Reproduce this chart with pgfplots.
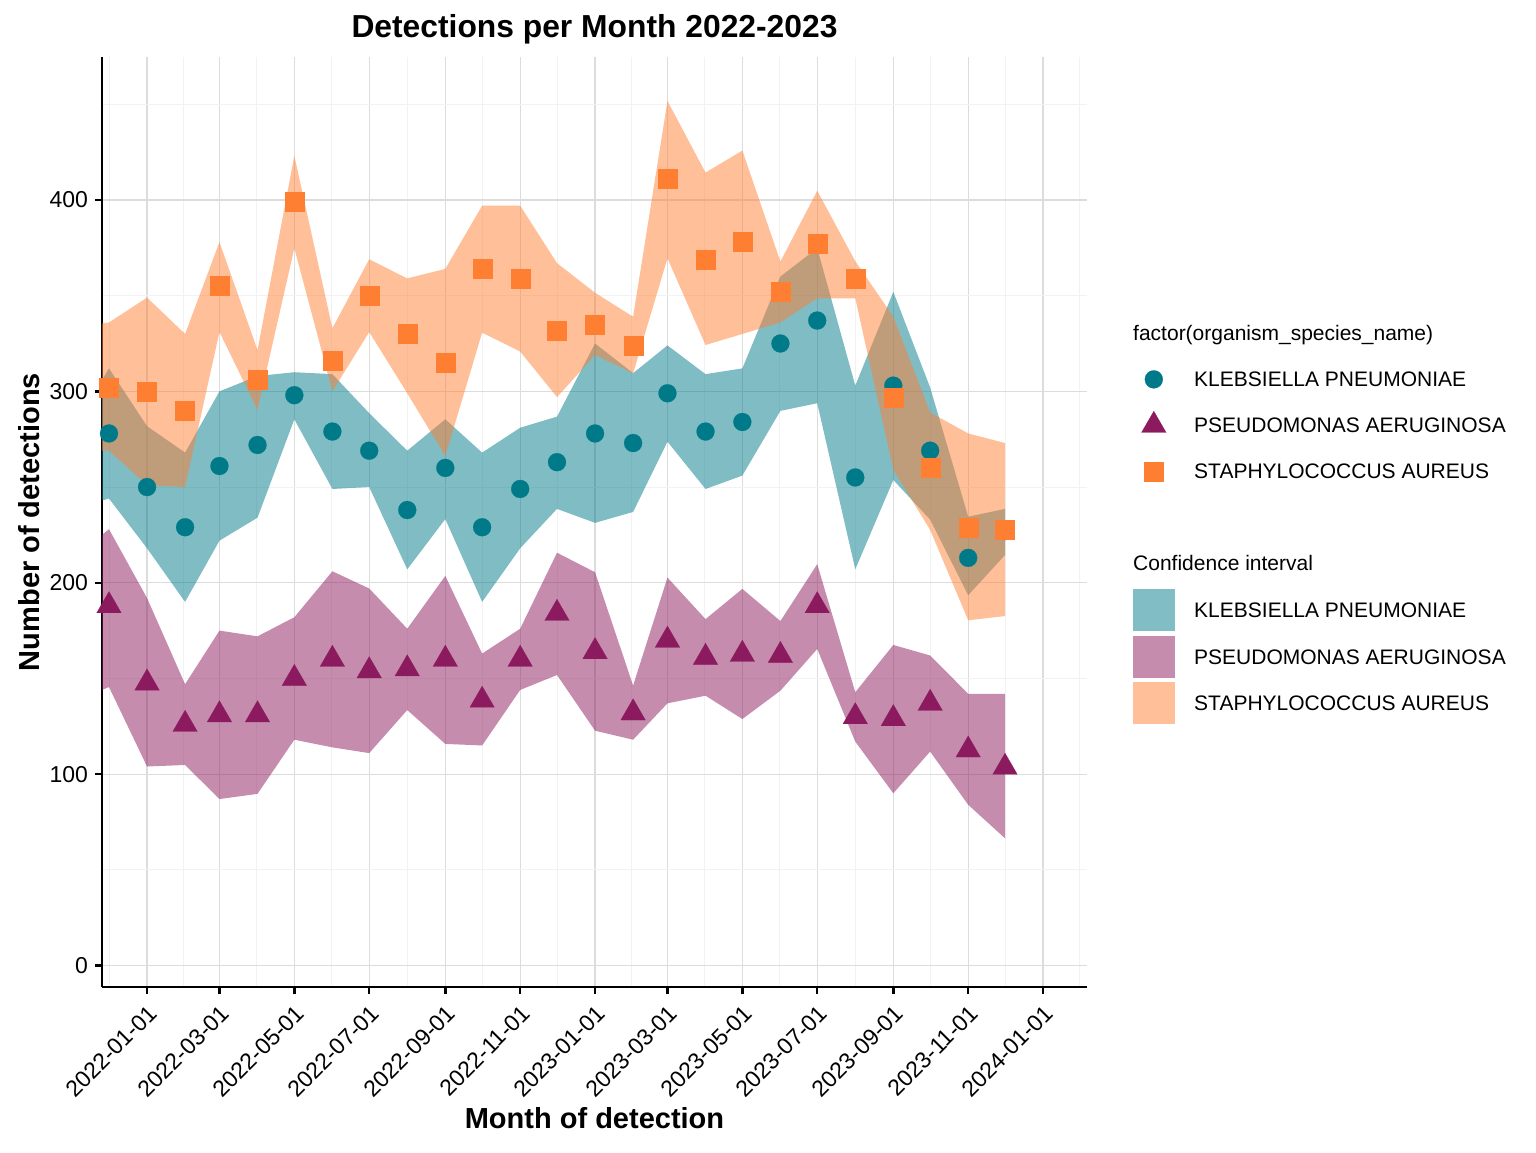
\documentclass[border=0pt]{standalone}
\usepackage{fontspec}
\setmainfont{Liberation Sans}
\usepackage{pgfplots}
\pgfplotsset{compat=1.18}
\usepackage{pgfplotstable}
\usepgfplotslibrary{fillbetween}

\definecolor{kcol}{RGB}{0,122,136}
\definecolor{pcol}{RGB}{139,26,94}
\definecolor{scol}{RGB}{255,127,50}
\definecolor{kband}{RGB}{128,189,196}
\definecolor{pband}{RGB}{197,140,174}
\definecolor{sband}{RGB}{255,191,152}
\definecolor{gridmaj}{RGB}{220,220,220}
\definecolor{gridmin}{RGB}{242,242,242}

% d = days since 2021-12-01; k/p/s = detections, u/l = interval bounds
\pgfplotstableread{
d k p s ku kl pu pl su sl
-5.7 nan nan nan 306 243 225 144 335.5 269
0 278 188 302 312 244 228 145.5 336 269
31 250 147.6 300 281.8 218 192 104 349 251
62 229 126 290 268 190 147 104.8 330 250
90 261 131 355 300 222 175 87 378 331
121 272 131 306 308 234 172 89.7 321.6 290.3
151 298 150 399 310 285.4 182 118 423 374.8
182 279 160 316 309 249 206 114 333 300
212 269 154 350 288.6 250 197 111 369 331
243 238 155 330 269 207 176 133.5 359 299
274 260 160 315 285.4 233.3 203.6 115.8 364 266.2
304 229 138.6 364 268 190 163 115 397 330.7
335 249 160 359 281 218 176 144 397 320.8
365 263 184 332 286.8 238.6 215.7 151.8 367 297
396 278 164 335 325 231.3 205.5 122.7 351.5 319
427 273 132 324 309.5 237 146.3 118 339 309.4
455 299 170 411 324 273.7 202.7 137 451.7 369.5
486 279 161 369 309 249 181 141 414.3 324.2
516 284 162.6 378 312 256 196.8 128.8 425.8 330
547 325 162 352 360 289.8 180 143.6 367.8 336
577 337 188 377 374.8 293.8 209.7 165.4 404.8 348.6
608 255 130 359 303 207 142.8 117 368 348.6
639 303 129 297 352 253.7 167.5 90 339 259
669 269 137 260 302 233 162 111.8 289 227.6
700 213 112.6 229 234.5 193.5 142 84 278 180.4
730 227 103.6 228 238.6 214.5 142 66.5 273 182.6
}\datatable

\pgfplotsset{
    kmark/.style={only marks, color=kcol, mark=*, mark size=4.5pt, mark options={fill=kcol, draw=kcol, line width=0.1pt}},
    pmark/.style={only marks, color=pcol, mark=triangle*, mark size=7.1pt, mark options={fill=pcol, draw=pcol, line width=0.1pt}},
    smark/.style={only marks, color=scol, mark=square*, mark size=4.75pt, mark options={fill=scol, draw=scol, line width=0.1pt}},
}

\begin{document}
\begin{tikzpicture}
\begin{axis}[
    scale only axis,
    width=492.5pt, height=465pt,
    xmin=-5.7, xmax=796.8,
    ymin=-11.2, ymax=474.7,
    axis x line*=bottom, axis y line*=left,
    axis line style={black, line width=1.35pt, -},
    tick align=outside,
    major tick length=3.5pt, minor tick length=0pt,
    tick style={black, line width=1.2pt},
    xtick={31,90,151,212,274,335,396,455,516,577,639,700,761},
    xticklabels={2022-01-01,2022-03-01,2022-05-01,2022-07-01,2022-09-01,2022-11-01,2023-01-01,2023-03-01,2023-05-01,2023-07-01,2023-09-01,2023-11-01,2024-01-01},
    minor xtick={0.5,60.5,120.5,181.5,243,304.5,365.5,425.5,485.5,546.5,608,669.5,730.5,791},
    ytick={0,100,200,300,400},
    minor ytick={50,150,250,350,450},
    grid=both,
    major grid style={gridmaj, line width=0.6pt},
    minor grid style={gridmin, line width=0.45pt},
    /pgf/number format/assume math mode=true,
    ticklabel style={font=\fontsize{11.5}{13}\selectfont},
    x tick label style={rotate=45, anchor=north east},
    title={Detections per Month 2022-2023},
    every axis title/.style={font=\bfseries\fontsize{15.9}{18}\selectfont, at={(axis description cs:0.5,1)}, anchor=base, yshift=9.75pt},
    xlabel={Month of detection},
    xlabel style={font=\bfseries\fontsize{14.5}{17}\selectfont, at={(axis description cs:0.5,-0.1415)}, anchor=center},
    ylabel={Number of detections},
    ylabel style={font=\bfseries\fontsize{14.5}{17}\selectfont, at={(axis description cs:-0.0741,0.5)}, anchor=center},
    legend cell align=left,
    legend style={draw=none, fill=none, inner sep=0pt,
        at={(axis description cs:1.0462,0.7253)}, anchor=north west,
        row sep=2.5pt, column sep=9.75pt,
        nodes={font=\fontsize{10.5}{12}\selectfont, text height=14pt, text depth=6.5pt, inner sep=0pt}},
]
% confidence bands
\addplot[name path=ku, draw=none, forget plot] table[x=d, y=ku]{\datatable};
\addplot[name path=kl, draw=none, forget plot] table[x=d, y=kl]{\datatable};
\addplot[fill=kcol, fill opacity=0.5, draw=none, forget plot] fill between[of=ku and kl];
\addplot[name path=pu, draw=none, forget plot] table[x=d, y=pu]{\datatable};
\addplot[name path=pl, draw=none, forget plot] table[x=d, y=pl]{\datatable};
\addplot[fill=pcol, fill opacity=0.5, draw=none, forget plot] fill between[of=pu and pl];
\addplot[name path=su, draw=none, forget plot] table[x=d, y=su]{\datatable};
\addplot[name path=sl, draw=none, forget plot] table[x=d, y=sl]{\datatable};
\addplot[fill=scol, fill opacity=0.5, draw=none, forget plot] fill between[of=su and sl];

% monthly counts
\addplot[kmark, skip coords between index={0}{1}, forget plot] table[x=d, y=k]{\datatable};
\addplot[pmark, skip coords between index={0}{1}, forget plot] table[x=d, y=p]{\datatable};
\addplot[smark, skip coords between index={0}{1}, forget plot] table[x=d, y=s]{\datatable};

% legend
\addlegendimage{empty legend}
\addlegendentry{\hspace*{-30.5pt}factor(organism\_species\_name)}
\addlegendimage{kmark}
\addlegendentry{KLEBSIELLA PNEUMONIAE}
\addlegendimage{pmark}
\addlegendentry{PSEUDOMONAS AERUGINOSA}
\addlegendimage{smark}
\addlegendentry{STAPHYLOCOCCUS AUREUS}
\addlegendimage{empty legend}
\addlegendentry{\strut}
\addlegendimage{empty legend}
\addlegendentry{\hspace*{-30.5pt}Confidence interval}
\addlegendimage{legend image code/.code={\fill[kband] (-1.714pt,-10.25pt) rectangle (18.786pt,10.25pt);}}
\addlegendentry{KLEBSIELLA PNEUMONIAE}
\addlegendimage{legend image code/.code={\fill[pband] (-1.714pt,-10.25pt) rectangle (18.786pt,10.25pt);}}
\addlegendentry{PSEUDOMONAS AERUGINOSA}
\addlegendimage{legend image code/.code={\fill[sband] (-1.714pt,-10.25pt) rectangle (18.786pt,10.25pt);}}
\addlegendentry{STAPHYLOCOCCUS AUREUS}
\end{axis}
\path (-51pt,-82.5pt) rectangle (717pt,493.5pt);
\end{tikzpicture}
\end{document}
